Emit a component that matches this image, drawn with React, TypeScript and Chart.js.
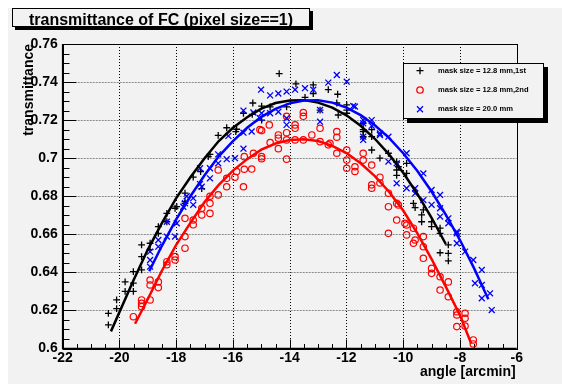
import React, { useEffect, useRef } from 'react';
import { Chart, registerables } from 'chart.js';

Chart.register(...registerables);

const FONT = '"Liberation Sans", Arial, Helvetica, sans-serif';

// ---- tick values / labels ----
const xTicks = [-22, -20, -18, -16, -14, -12, -10, -8, -6];
const xTickLabels = ['-22', '-20', '-18', '-16', '-14', '-12', '-10', '-8', '-6'];
const yTicks = [0.6, 0.62, 0.64, 0.66, 0.68, 0.7, 0.72, 0.74, 0.76];
const yTickLabels = ['0.6', '0.62', '0.64', '0.66', '0.68', '0.7', '0.72', '0.74', '0.76'];

// ---- mask size = 12.8 mm, 1st (black +) ----
const blackPtsX = [-20.39, -20.39, -20.1, -20.1, -19.8, -19.8, -19.51, -19.51, -19.51, -19.22,
  -19.22, -19.22, -18.92, -18.92, -18.63, -18.63, -18.33, -18.33, -18.04, -17.98,
  -17.69, -17.69, -17.69, -17.4, -17.14, -17.1, -16.87, -16.81, -16.52, -16.22,
  -15.9, -15.87, -15.63, -15.32, -15.3, -14.99, -14.99, -14.69, -14.37, -14.11,
  -13.78, -13.46, -13.17, -13.17, -12.93, -12.64, -12.34, -12.31, -12.29, -11.99,
  -11.99, -11.99, -11.41, -11.41, -11.41, -11.41, -11.11, -11.11, -11.11, -10.82,
  -10.52, -10.23, -10.23, -10.23, -10.17, -9.88, -9.88, -9.64, -9.58, -9.35,
  -9.35, -9.29, -9.0, -9.0, -8.7, -8.7, -8.7, -8.41, -8.41, -8.41];
const blackPtsY = [0.6185, 0.6124, 0.6255, 0.621, 0.635, 0.63, 0.6343, 0.6404, 0.63, 0.6544,
  0.6483, 0.6413, 0.6553, 0.652, 0.664, 0.6605, 0.671, 0.6666, 0.6737, 0.6745,
  0.6772, 0.6763, 0.6816, 0.69, 0.693, 0.684, 0.7008, 0.702, 0.712, 0.716,
  0.714, 0.7152, 0.7236, 0.723, 0.729, 0.7274, 0.72, 0.727, 0.7444, 0.727,
  0.739, 0.732, 0.7385, 0.734, 0.7253, 0.736, 0.729, 0.7336, 0.7227, 0.728,
  0.7236, 0.7253, 0.7183, 0.715, 0.714, 0.7113, 0.715, 0.7113, 0.7043, 0.7,
  0.7026, 0.698, 0.691, 0.6938, 0.6955, 0.6973, 0.692, 0.6763, 0.674, 0.6702,
  0.6666, 0.6728, 0.6666, 0.664, 0.6632, 0.6605, 0.6503, 0.6544, 0.65, 0.646];

// ---- mask size = 12.8 mm, 2nd (red o) ----
const redPtsX = [-19.51, -19.22, -19.22, -19.22, -18.92, -18.92, -18.92, -18.63, -18.63, -18.33,
  -18.33, -18.04, -18.04, -17.69, -17.69, -17.69, -17.4, -17.4, -17.1, -17.1,
  -16.81, -16.81, -16.81, -16.52, -16.52, -16.22, -16.22, -15.93, -15.87, -15.63,
  -15.6, -15.6, -15.34, -15.28, -15.05, -14.99, -14.99, -14.99, -14.72, -14.69,
  -14.4, -14.4, -14.4, -14.11, -14.11, -14.11, -14.11, -13.81, -13.81, -13.81,
  -13.52, -13.52, -13.52, -13.22, -12.93, -12.93, -12.64, -12.58, -12.34, -12.34,
  -12.34, -11.99, -11.99, -11.99, -11.7, -11.7, -11.41, -11.41, -11.11, -11.11,
  -11.11, -10.82, -10.82, -10.52, -10.52, -10.52, -10.23, -10.23, -10.17, -9.94,
  -9.88, -9.88, -9.64, -9.64, -9.58, -9.29, -9.29, -9.29, -9.0, -9.0,
  -8.7, -8.7, -8.41, -8.41, -8.11, -8.11, -8.11, -7.82, -7.82, -7.82,
  -7.53, -7.53];
const redPtsY = [0.6167, 0.6255, 0.6237, 0.622, 0.6255, 0.636, 0.6334, 0.635, 0.632, 0.6456,
  0.644, 0.6483, 0.6465, 0.6527, 0.6588, 0.6684, 0.6675, 0.665, 0.6737, 0.6702,
  0.6763, 0.671, 0.68, 0.6807, 0.6938, 0.685, 0.6894, 0.69, 0.693, 0.685,
  0.6942, 0.7008, 0.6943, 0.7026, 0.715, 0.7008, 0.6997, 0.7145, 0.7175, 0.7082,
  0.7122, 0.7105, 0.705, 0.722, 0.7134, 0.7096, 0.6995, 0.7175, 0.7157, 0.7096,
  0.724, 0.722, 0.7096, 0.7122, 0.7157, 0.7087, 0.707, 0.7078, 0.714, 0.711,
  0.7026, 0.7043, 0.699, 0.6947, 0.6955, 0.693, 0.7026, 0.699, 0.6964, 0.686,
  0.6842, 0.69, 0.687, 0.6816, 0.6745, 0.6605, 0.6763, 0.6675, 0.6754, 0.6658,
  0.6649, 0.6597, 0.6632, 0.6553, 0.657, 0.6588, 0.6535, 0.6474, 0.6421, 0.6395,
  0.6377, 0.6307, 0.635, 0.6272, 0.6193, 0.6176, 0.6115, 0.6185, 0.6159, 0.6118,
  0.6045, 0.6024];

// ---- mask size = 20.0 mm (blue x) ----
const bluePtsX = [-18.92, -18.92, -18.92, -18.63, -18.63, -18.33, -18.33, -18.04, -17.98, -17.75,
  -17.69, -17.63, -17.4, -17.4, -17.16, -17.16, -17.1, -16.81, -16.81, -16.52,
  -16.52, -16.22, -16.16, -15.93, -15.63, -15.63, -15.63, -15.34, -15.28, -15.05,
  -15.01, -14.99, -14.69, -14.69, -14.4, -14.4, -14.11, -14.11, -14.11, -13.81,
  -13.46, -13.17, -12.93, -12.93, -12.64, -12.34, -11.99, -11.76, -11.7, -11.41,
  -11.41, -11.41, -11.41, -11.11, -11.11, -10.82, -10.82, -10.52, -10.52, -10.23,
  -10.23, -9.88, -9.88, -9.58, -9.58, -9.29, -9.29, -9.0, -9.0, -8.7,
  -8.7, -8.7, -8.41, -8.41, -8.11, -8.11, -8.11, -7.82, -7.53, -7.47,
  -7.23, -7.23, -7.23, -6.94, -6.88];
const bluePtsY = [0.6509, 0.643, 0.6465, 0.657, 0.6535, 0.6666, 0.6588, 0.6588, 0.6658, 0.6745,
  0.6763, 0.68, 0.6755, 0.679, 0.6864, 0.6947, 0.685, 0.6947, 0.6894, 0.702,
  0.6973, 0.6995, 0.7117, 0.7, 0.705, 0.7134, 0.725, 0.714, 0.724, 0.721,
  0.736, 0.7236, 0.733, 0.7236, 0.734, 0.7244, 0.735, 0.7175, 0.721, 0.736,
  0.7368, 0.736, 0.7253, 0.7192, 0.7397, 0.7437, 0.7402, 0.7274, 0.7271, 0.7183,
  0.72, 0.7113, 0.7096, 0.72, 0.717, 0.7122, 0.713, 0.7113, 0.6982, 0.6973,
  0.6868, 0.7026, 0.6842, 0.6842, 0.6815, 0.692, 0.678, 0.6833, 0.6755, 0.6807,
  0.6737, 0.6693, 0.6684, 0.6658, 0.6614, 0.6553, 0.6605, 0.6509, 0.6465, 0.6343,
  0.6413, 0.6334, 0.6264, 0.629, 0.6202];

// ---- fitted curves ----
const blackFitX = [-20.3, -19.5, -19, -18.5, -18, -17.5, -17, -16.5, -16, -15.5, -15, -14.5,
  -14, -13.5, -13, -12.5, -12, -11.5, -11, -10.5, -10, -9.5, -9, -8.5];
const blackFitY = [0.609, 0.636, 0.652, 0.666, 0.679, 0.69, 0.7, 0.709, 0.716, 0.7215, 0.726, 0.729,
  0.7303, 0.7305, 0.7292, 0.7266, 0.7225, 0.717, 0.7102, 0.702, 0.6923, 0.6812, 0.6687, 0.6549];
const redFitX = [-19.45, -19, -18.5, -18, -17.5, -17, -16.5, -16, -15.5, -15, -14.5, -14, -13.5,
  -13, -12.5, -12, -11.5, -11, -10.5, -10, -9.5, -9, -8.5, -8, -7.6];
const redFitY = [0.613, 0.626, 0.641, 0.6545, 0.666, 0.677, 0.686, 0.6935, 0.6995, 0.7045, 0.7077,
  0.7095, 0.71, 0.709, 0.7065, 0.7027, 0.6973, 0.6906, 0.6824, 0.6725, 0.6605, 0.647, 0.6325, 0.6175, 0.6025];
const blueFitX = [-18.95, -18.5, -18, -17.5, -17, -16.5, -16, -15.5, -15, -14.5, -14, -13.5, -13,
  -12.5, -12, -11.5, -11, -10.5, -10, -9.5, -9, -8.5, -8, -7.5, -7];
const blueFitY = [0.6406, 0.6541, 0.6678, 0.68, 0.691, 0.701, 0.709, 0.716, 0.7217, 0.7259, 0.7288,
  0.7303, 0.7304, 0.7292, 0.7266, 0.7226, 0.7173, 0.7107, 0.7026, 0.6933, 0.6825, 0.6704, 0.657, 0.6421, 0.6259];

const legendLabels = ['mask size = 12.8 mm,1st', 'mask size = 12.8 mm,2nd', 'mask size = 20.0 mm'];
const titleText = 'transmittance of FC (pixel size==1)';
const xTitle = 'angle [arcmin]';
const yTitle = 'transmittance';

const pts = (xs: number[], ys: number[]) => xs.map((x, i) => ({ x, y: ys[i] }));

const W = 554;
const H = 376;

const decor = {
  id: 'rootDecor',
  beforeDraw(chart: any) {
    const ctx = chart.ctx;
    ctx.save();
    ctx.fillStyle = '#f2f2f2';
    ctx.fillRect(0, 0, chart.width, chart.height);
    ctx.restore();
  },
  beforeDatasetsDraw(chart: any) {
    const ctx = chart.ctx;
    const { left, right, top, bottom } = chart.chartArea;
    const xs = chart.scales.x;
    const ys = chart.scales.y;
    ctx.save();
    // grid
    ctx.lineWidth = 1;
    ctx.strokeStyle = '#000';
    ctx.setLineDash([1, 2]);
    xTicks.slice(1, -1).forEach((v) => {
      const px = Math.round(xs.getPixelForValue(v)) + 0.5;
      ctx.beginPath();
      ctx.moveTo(px, top);
      ctx.lineTo(px, bottom);
      ctx.stroke();
    });
    ctx.strokeStyle = '#8a8a8a';
    ctx.setLineDash([2, 1]);
    yTicks.slice(1, -1).forEach((v) => {
      const py = Math.round(ys.getPixelForValue(v)) + 0.5;
      ctx.beginPath();
      ctx.moveTo(left, py);
      ctx.lineTo(right, py);
      ctx.stroke();
    });
    ctx.setLineDash([]);
    // frame
    ctx.strokeStyle = '#000';
    ctx.lineWidth = 1;
    ctx.strokeRect(Math.round(left) + 0.5, Math.round(top) + 0.5, Math.round(right - left), Math.round(bottom - top));
    ctx.lineWidth = 1.6;
    ctx.beginPath();
    ctx.moveTo(left, top);
    ctx.lineTo(left, bottom);
    ctx.lineTo(right, bottom);
    ctx.stroke();
    // ticks
    ctx.lineWidth = 1;
    const xMinorStep = 0.5;
    for (let v = xTicks[0]; v <= xTicks[xTicks.length - 1] + 1e-9; v += xMinorStep) {
      const isMajor = xTicks.some((t) => Math.abs(t - v) < 1e-6);
      const px = Math.round(xs.getPixelForValue(v)) + 0.5;
      const len = isMajor ? 9 : 4.5;
      ctx.beginPath();
      ctx.moveTo(px, bottom);
      ctx.lineTo(px, bottom - len);
      ctx.stroke();
    }
    const yMinorStep = 0.005;
    for (let k = 0; k <= 32; k++) {
      const v = yTicks[0] + k * yMinorStep;
      const isMajor = k % 4 === 0;
      const py = Math.round(ys.getPixelForValue(v)) + 0.5;
      const len = isMajor ? 13.6 : 6.8;
      ctx.beginPath();
      ctx.moveTo(left, py);
      ctx.lineTo(left + len, py);
      ctx.stroke();
    }
    ctx.restore();
  },
  afterDraw(chart: any) {
    const ctx = chart.ctx;
    const { right } = chart.chartArea;
    ctx.save();
    // axis titles
    ctx.fillStyle = '#000';
    ctx.font = `bold 14px ${FONT}`;
    ctx.textAlign = 'right';
    ctx.textBaseline = 'alphabetic';
    ctx.fillText(xTitle, right - 1, 367.5);
    ctx.save();
    ctx.translate(25, chart.chartArea.top);
    ctx.rotate(-Math.PI / 2);
    ctx.textAlign = 'right';
    ctx.fillText(yTitle, 0, 0);
    ctx.restore();

    // title box with shadow
    const tb = { x: 4, y: 0, w: 298, h: 19 };
    ctx.fillStyle = '#000';
    ctx.fillRect(tb.x + tb.w, tb.y + 3, 3, tb.h);
    ctx.fillRect(tb.x + 3, tb.y + tb.h, tb.w, 3);
    ctx.fillStyle = '#f2f2f2';
    ctx.fillRect(tb.x, tb.y, tb.w, tb.h);
    ctx.strokeStyle = '#000';
    ctx.lineWidth = 1;
    ctx.strokeRect(tb.x + 0.5, tb.y + 0.5, tb.w - 1, tb.h - 1);
    ctx.fillStyle = '#000';
    ctx.font = `bold 16px ${FONT}`;
    ctx.textAlign = 'center';
    ctx.textBaseline = 'alphabetic';
    ctx.fillText(titleText, tb.x + tb.w / 2, 16.5);

    // legend box with shadow
    const lb = { x: 395, y: 55, w: 141, h: 56 };
    ctx.fillStyle = '#000';
    ctx.fillRect(lb.x + lb.w, lb.y + 4, 4, lb.h);
    ctx.fillRect(lb.x + 4, lb.y + lb.h, lb.w, 4);
    ctx.fillStyle = '#f2f2f2';
    ctx.fillRect(lb.x, lb.y, lb.w, lb.h);
    ctx.strokeStyle = '#000';
    ctx.strokeRect(lb.x + 0.5, lb.y + 0.5, lb.w - 1, lb.h - 1);
    const rows = [62.7, 82, 101.3];
    const mx = 412;
    ctx.lineWidth = 1.3;
    // +
    ctx.strokeStyle = '#000';
    ctx.beginPath();
    ctx.moveTo(mx - 3.5, rows[0]); ctx.lineTo(mx + 3.5, rows[0]);
    ctx.moveTo(mx, rows[0] - 3.5); ctx.lineTo(mx, rows[0] + 3.5);
    ctx.stroke();
    // o
    ctx.strokeStyle = '#ff0000';
    ctx.beginPath();
    ctx.arc(mx, rows[1], 3.2, 0, Math.PI * 2);
    ctx.stroke();
    // x
    ctx.strokeStyle = '#0000ff';
    ctx.beginPath();
    ctx.moveTo(mx - 3, rows[2] - 3); ctx.lineTo(mx + 3, rows[2] + 3);
    ctx.moveTo(mx - 3, rows[2] + 3); ctx.lineTo(mx + 3, rows[2] - 3);
    ctx.stroke();
    ctx.fillStyle = '#000';
    ctx.font = `bold 7.6px ${FONT}`;
    ctx.textAlign = 'left';
    ctx.textBaseline = 'middle';
    legendLabels.forEach((t, i) => ctx.fillText(t, 430, rows[i]));
    ctx.restore();
  },
};

export default function App() {
  const ref = useRef<HTMLCanvasElement>(null);
  useEffect(() => {
    const canvas = ref.current!;
    const chart = new Chart(canvas, {
      type: 'scatter',
      data: {
        datasets: [
          { label: 'fit20', data: pts(blueFitX, blueFitY), showLine: true, borderColor: '#0000ff', borderWidth: 2.5, pointRadius: 0, fill: false, order: 0 },
          { label: 'fit2', data: pts(redFitX, redFitY), showLine: true, borderColor: '#ff0000', borderWidth: 2.5, pointRadius: 0, fill: false, order: 1 },
          { label: 'fit1', data: pts(blackFitX, blackFitY), showLine: true, borderColor: '#000000', borderWidth: 2.5, pointRadius: 0, fill: false, order: 2 },
          { label: legendLabels[2], data: pts(bluePtsX, bluePtsY), pointStyle: 'crossRot', pointRadius: 4.2, borderColor: '#0000ff', backgroundColor: '#0000ff', pointBorderWidth: 1.3, order: 3 },
          { label: legendLabels[1], data: pts(redPtsX, redPtsY), pointStyle: 'circle', pointRadius: 3.2, borderColor: '#ff0000', backgroundColor: 'rgba(0,0,0,0)', pointBorderWidth: 1.2, order: 4 },
          { label: legendLabels[0], data: pts(blackPtsX, blackPtsY), pointStyle: 'cross', pointRadius: 3.4, borderColor: '#000000', backgroundColor: '#000000', pointBorderWidth: 1.3, order: 5 },
        ] as any,
      },
      options: {
        responsive: false,
        animation: false,
        devicePixelRatio: 1,
        events: [],
        layout: { padding: { top: 36, right: 45.3, left: 0, bottom: 0 } },
        plugins: { legend: { display: false }, tooltip: { enabled: false }, title: { display: false } },
        scales: {
          x: {
            type: 'linear',
            min: -22,
            max: -6,
            afterBuildTicks: (s: any) => { s.ticks = xTicks.map((v) => ({ value: v })); },
            afterFit: (s: any) => { s.height = 35.5; },
            ticks: {
              autoSkip: false,
              maxRotation: 0,
              minRotation: 0,
              padding: 1,
              color: '#000',
              font: { family: FONT, size: 14, weight: 'bold' },
              callback: (_v: any, i: number) => xTickLabels[i],
            },
            grid: { display: false, drawTicks: false },
            border: { display: false },
          },
          y: {
            type: 'linear',
            min: 0.6,
            max: 0.76,
            afterBuildTicks: (s: any) => { s.ticks = yTicks.map((v) => ({ value: v })); },
            afterFit: (s: any) => { s.width = 54.7; },
            ticks: {
              autoSkip: false,
              padding: 5,
              color: '#000',
              font: { family: FONT, size: 14, weight: 'bold' },
              callback: (_v: any, i: number) => yTickLabels[i],
            },
            grid: { display: false, drawTicks: false },
            border: { display: false },
          },
        },
      } as any,
      plugins: [decor],
    });
    return () => chart.destroy();
  }, []);
  return (
    <div style={{ position: 'fixed', left: 8, top: 8, width: W, height: H }}>
      <canvas ref={ref} width={W} height={H} style={{ display: 'block', width: W, height: H }} />
    </div>
  );
}
